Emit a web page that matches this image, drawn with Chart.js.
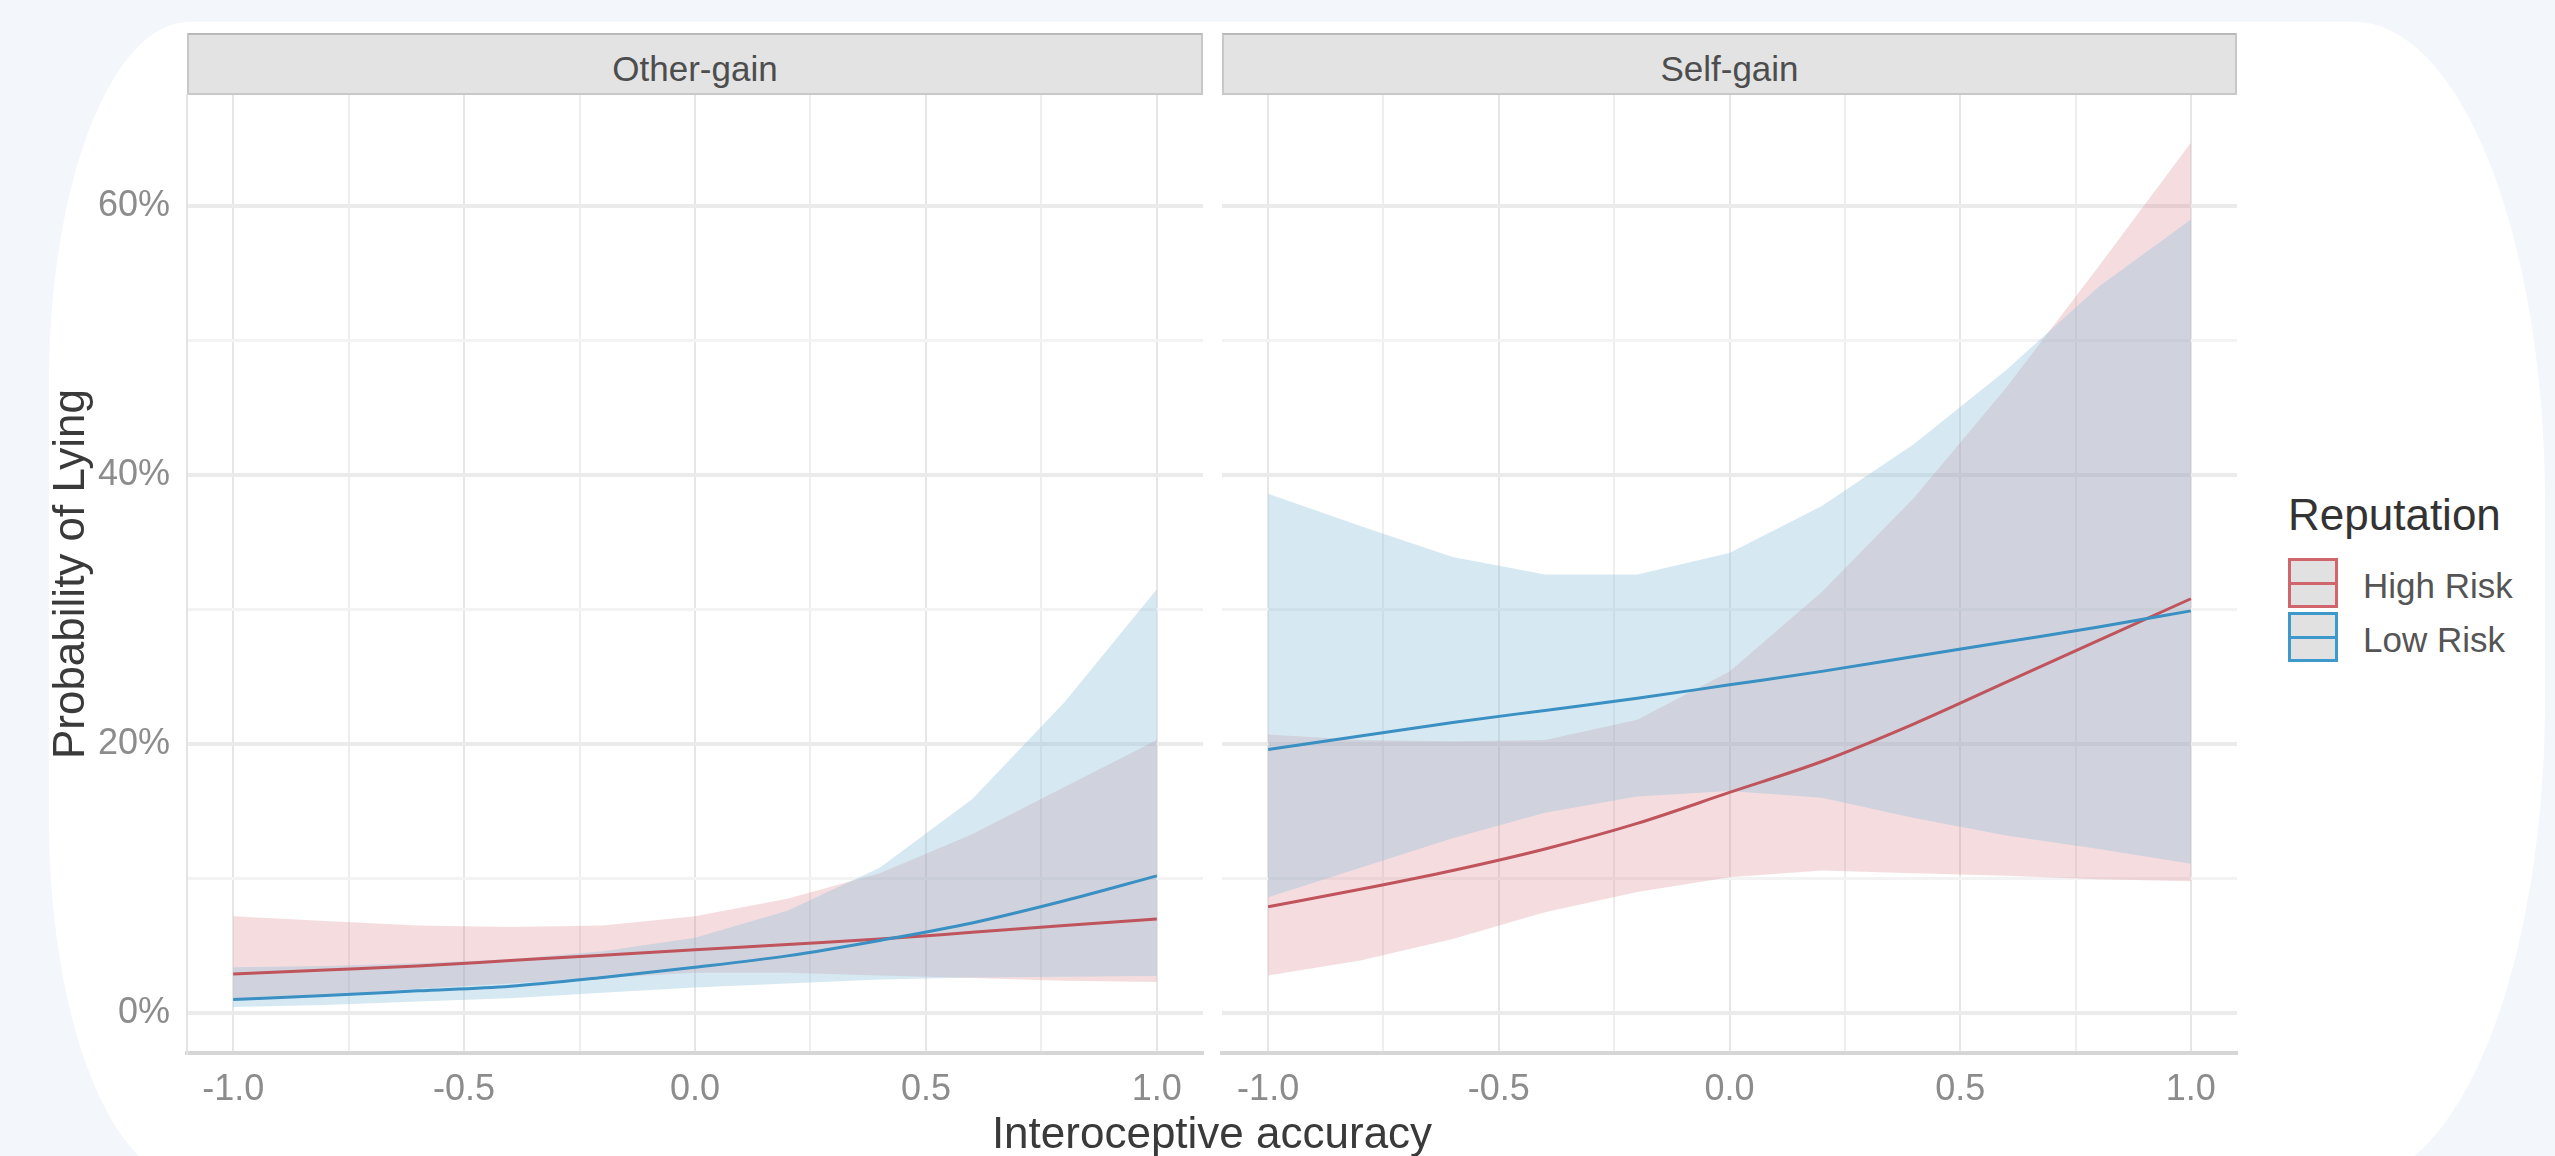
<!DOCTYPE html>
<html>
<head>
<meta charset="utf-8">
<title>Probability of Lying by interoceptive accuracy</title>
<script src="https://cdn.jsdelivr.net/npm/chart.js@4.4.1/dist/chart.umd.min.js"></script>
<style>
  html, body { margin: 0; padding: 0; background: #f3f6fa; overflow: hidden; }
  #page { position: relative; width: 2555px; height: 1156px; font-family: "Liberation Sans", Arial, sans-serif; }
  .card {
    position: absolute; left: 49px; top: 22px; width: 2496px; height: 1158px; background: #fff;
    border-radius: 140px 190px 190px 140px / 360px 480px 480px 360px;
  }
  .strip {
    position: absolute; top: 33px; height: 62px; box-sizing: border-box; padding-top: 12px;
    background: #e3e3e3; border: 2px solid #c8c8c8; border-top-color: #b8b8b8;
    color: #4d4d4d; font-size: 35px; line-height: 44px; text-align: center;
  }
  canvas { position: absolute; top: 0; }
  .xtitle {
    position: absolute; left: 612px; width: 1200px; top: 1111px; text-align: center;
    font-size: 44px; line-height: 44px; color: #3a3a3a;
  }
  .legend { position: absolute; left: 2288px; top: 493px; }
  .legend-title { font-size: 44px; line-height: 44px; color: #333; margin-bottom: 21px; }
  .legend-row { position: relative; height: 54px; }
  .legend-key {
    position: absolute; left: 0; top: 0; width: 50px; height: 50px; box-sizing: border-box;
    background: #e1e1e1; border: 3px solid;
  }
  .legend-key i { position: absolute; left: 0; right: 0; top: 21px; height: 3px; }
  .legend-label { position: absolute; left: 75px; top: 10px; font-size: 35px; line-height: 35px; color: #555; white-space: nowrap; }
</style>
</head>
<body>
<div id="page">
  <div class="card"></div>
  <div class="strip" style="left:187px;width:1016px;">Other-gain</div>
  <div class="strip" style="left:1222px;width:1015px;">Self-gain</div>
  <canvas id="panelOther" width="1212" height="1156" style="left:0;width:1212px;height:1156px;"></canvas>
  <canvas id="panelSelf" width="1040" height="1156" style="left:1212px;width:1040px;height:1156px;"></canvas>
  <div class="xtitle">Interoceptive accuracy</div>
  <div class="legend" id="legend"></div>
</div>
<script>
'use strict';

// x positions of the model predictions
const xValues = [-1.0, -0.8, -0.6, -0.4, -0.2, 0.0, 0.2, 0.4, 0.6, 0.8, 1.0];
const xTicks = [-1, -0.75, -0.5, -0.25, 0, 0.25, 0.5, 0.75, 1];
const yTicks = [0, 10, 20, 30, 40, 50, 60];
const groups = ['High Risk', 'Low Risk'];

// Other-gain panel (percent)
const otherHighFit = [2.9, 3.2, 3.5, 3.9, 4.3, 4.7, 5.1, 5.5, 6.0, 6.5, 7.0];
const otherHighLow = [1.0, 1.35, 1.8, 2.2, 2.6, 3.0, 3.0, 2.8, 2.6, 2.4, 2.3];
const otherHighUp = [7.2, 6.85, 6.5, 6.4, 6.5, 7.2, 8.5, 10.4, 13.3, 16.8, 20.3];
const otherLowFit = [1.0, 1.3, 1.65, 2.0, 2.65, 3.4, 4.25, 5.4, 6.7, 8.35, 10.2];
const otherLowLow = [0.45, 0.6, 0.85, 1.1, 1.5, 1.9, 2.2, 2.5, 2.65, 2.7, 2.75];
const otherLowUp = [3.4, 3.5, 3.7, 4.0, 4.6, 5.6, 7.6, 10.8, 15.9, 23.1, 31.5];

// Self-gain panel (percent)
const selfHighFit = [7.9, 9.2, 10.6, 12.2, 14.1, 16.4, 18.7, 21.5, 24.6, 27.7, 30.8];
const selfHighLow = [2.8, 3.9, 5.5, 7.5, 9.0, 10.1, 10.6, 10.4, 10.2, 9.95, 9.8];
const selfHighUp = [20.7, 20.3, 20.2, 20.3, 21.8, 25.4, 31.3, 38.3, 46.5, 55.5, 64.7];
const selfLowFit = [19.6, 20.6, 21.6, 22.5, 23.4, 24.4, 25.4, 26.5, 27.6, 28.7, 29.9];
const selfLowLow = [8.6, 10.8, 13.0, 14.9, 16.1, 16.5, 16.0, 14.5, 13.2, 12.2, 11.1];
const selfLowUp = [38.6, 36.2, 33.9, 32.6, 32.6, 34.2, 37.7, 42.3, 47.8, 54.0, 59.0];

const COLORS = {
  'High Risk': { line: '#c0545c', ribbon: 'rgba(214,120,128,0.25)', key: '#d0656c' },
  'Low Risk': { line: '#3a8fc3', ribbon: 'rgba(138,192,218,0.35)', key: '#3d98cc' },
};

const FONT = '"Liberation Sans", Arial, sans-serif';
Chart.defaults.font.family = FONT;

const pts = ys => xValues.map((x, i) => ({ x, y: ys[i] }));
const isMajorX = v => Math.abs(v * 2 - Math.round(v * 2)) < 1e-9;

function ribbon(up, low, group, order) {
  const base = { borderWidth: 0, borderColor: 'rgba(0,0,0,0)', pointRadius: 0, tension: 0, order };
  return [
    { ...base, label: group + ' upper', data: pts(up), fill: '+1', backgroundColor: COLORS[group].ribbon },
    { ...base, label: group + ' lower', data: pts(low), fill: false },
  ];
}

function fitLine(fit, group, order) {
  return {
    label: group, data: pts(fit), borderColor: COLORS[group].line, borderWidth: 3,
    pointRadius: 0, fill: false, cubicInterpolationMode: 'monotone', order,
  };
}

function xScale() {
  return {
    type: 'linear', min: -1.1, max: 1.1,
    afterBuildTicks: s => { s.ticks = xTicks.map(v => ({ value: v })); },
    afterFit: s => { s.height = 103; },
    grid: {
      color: c => (c.tick && isMajorX(c.tick.value) ? '#e6e6e6' : '#eeeeee'),
      lineWidth: 2, drawTicks: false,
    },
    border: { display: true, color: '#d6d6d6', width: 4 },
    ticks: {
      padding: 15, color: '#8c8c8c', font: { size: 36 }, autoSkip: false, maxRotation: 0,
      callback: v => (isMajorX(v) ? v.toFixed(1) : ''),
    },
  };
}

function yScale(showAxis) {
  return {
    min: -2.97, max: 68.25,
    afterBuildTicks: s => { s.ticks = yTicks.map(v => ({ value: v })); },
    afterFit: s => { s.width = showAxis ? 187 : 0; },
    grid: {
      color: c => (c.tick && c.tick.value % 20 === 0 ? '#ebebeb' : '#f3f3f3'),
      lineWidth: c => (c.tick && c.tick.value % 20 === 0 ? 4 : 3),
      drawTicks: false,
    },
    border: { display: showAxis, color: '#e3e3e3', width: 2 },
    ticks: {
      display: showAxis, padding: 17, color: '#8c8c8c', font: { size: 36 },
      callback: v => (v % 20 === 0 ? v + '%' : ''),
    },
    title: {
      display: showAxis, text: 'Probability of Lying', color: '#3a3a3a',
      font: { size: 44 }, padding: { top: 45, bottom: 0 },
    },
  };
}

function renderPanel(canvas, series, showAxis, padding) {
  const datasets = [
    ...ribbon(series.highUp, series.highLow, 'High Risk', 2),
    ...ribbon(series.lowUp, series.lowLow, 'Low Risk', 1),
    fitLine(series.highFit, 'High Risk', 0.5),
    fitLine(series.lowFit, 'Low Risk', 0),
  ];
  return new Chart(canvas.getContext('2d'), {
    type: 'line',
    data: { datasets },
    options: {
      responsive: false,
      animation: false,
      layout: { padding },
      plugins: { legend: { display: false }, tooltip: { enabled: false } },
      scales: { x: xScale(), y: yScale(showAxis) },
    },
  });
}

renderPanel(document.getElementById('panelOther'), {
  highFit: otherHighFit, highLow: otherHighLow, highUp: otherHighUp,
  lowFit: otherLowFit, lowLow: otherLowLow, lowUp: otherLowUp,
}, true, { left: 0, top: 95, right: 9, bottom: 0 });

renderPanel(document.getElementById('panelSelf'), {
  highFit: selfHighFit, highLow: selfHighLow, highUp: selfHighUp,
  lowFit: selfLowFit, lowLow: selfLowLow, lowUp: selfLowUp,
}, false, { left: 10, top: 95, right: 15, bottom: 0 });

// legend, ggplot style
const legend = document.getElementById('legend');
legend.innerHTML = '<div class="legend-title">Reputation</div>' + groups.map(g =>
  `<div class="legend-row"><div class="legend-key" style="border-color:${COLORS[g].key}">` +
  `<i style="background:${COLORS[g].key}"></i></div><div class="legend-label">${g}</div></div>`
).join('');
</script>
</body>
</html>
